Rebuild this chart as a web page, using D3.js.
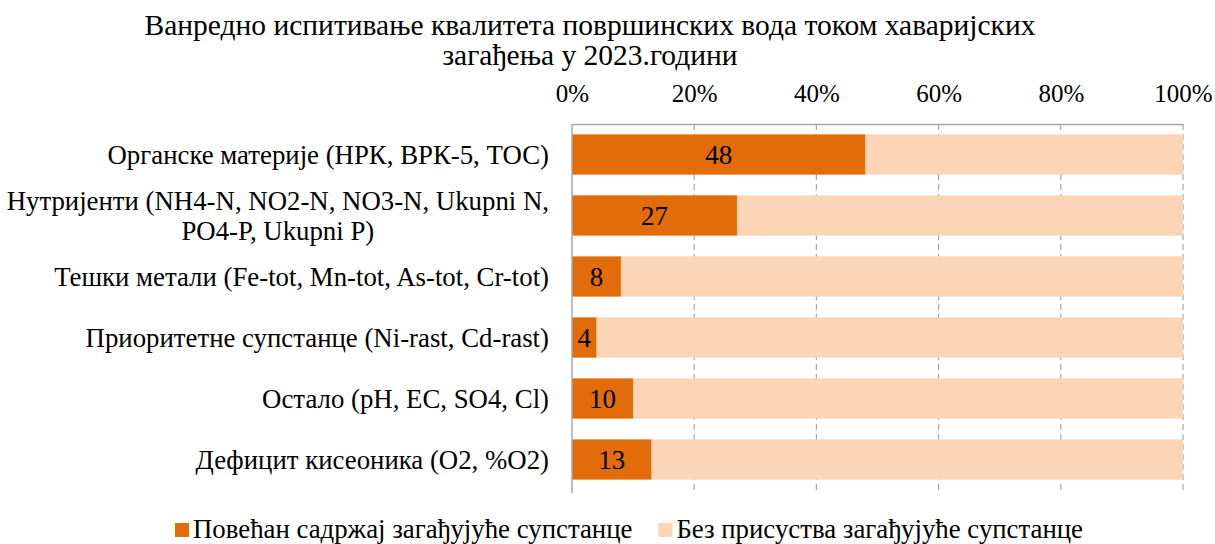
<!DOCTYPE html>
<html>
<head>
<meta charset="utf-8">
<script src="https://cdn.jsdelivr.net/npm/d3@7"></script>
<style>
  body { margin: 0; background: #fff; }
  text { font-family: "Liberation Serif", "Times New Roman", serif; fill: #000; }
</style>
</head>
<body>
<div id="chart"></div>
<script>
var titleLines = ["Ванредно испитивање квалитета површинских вода током хаваријских", "загађења у 2023.години"];
var categories = [
  ["Органске материје (НРК, ВРК-5, ТОС)"],
  ["Нутријенти (NH4-N, NO2-N, NO3-N, Ukupni N,", "PO4-P, Ukupni P)"],
  ["Тешки метали (Fe-tot, Mn-tot, As-tot, Cr-tot)"],
  ["Приоритетне супстанце (Ni-rast, Cd-rast)"],
  ["Остало (pH, EC, SO4, Cl)"],
  ["Дефицит кисеоника (O2, %O2)"]
];
var increased = [48, 27, 8, 4, 10, 13];
var absent = [52, 73, 92, 96, 90, 87];
var seriesNames = ["Повећан садржај загађујуће супстанце", "Без присуства загађујуће супстанце"];
var colors = ["#E36C0A", "#FBD5B5"];
var ticks = [0, 0.2, 0.4, 0.6, 0.8, 1];

var width = 1215, height = 544;
var margin = {top: 124, right: 32, bottom: 54, left: 572};

var svg = d3.select("#chart").append("svg")
  .attr("width", width).attr("height", height);

// title
svg.selectAll(".title")
  .data(titleLines)
  .enter().append("text")
  .attr("class", "title")
  .attr("x", 590)
  .attr("y", function(d, i) { return 35 + i * 30; })
  .attr("text-anchor", "middle")
  .style("font-size", "29.5px")
  .text(function(d) { return d; });

var x = d3.scaleLinear().domain([0, 1]).range([margin.left, width - margin.right]);
var y = d3.scaleBand().domain(d3.range(categories.length))
  .range([margin.top, height - margin.bottom]).paddingInner(0.34).paddingOuter(0.17);

var data = categories.map(function(c, i) {
  var tot = increased[i] + absent[i];
  return {i: i, a: increased[i] / tot, b: absent[i] / tot, v: increased[i]};
});

// gridlines
svg.append("g").selectAll("line")
  .data(ticks.slice(1))
  .enter().append("line")
  .attr("x1", function(d) { return x(d); })
  .attr("x2", function(d) { return x(d); })
  .attr("y1", margin.top)
  .attr("y2", height - margin.bottom + 4)
  .attr("stroke", "#A6A6A6")
  .attr("stroke-width", 1.2)
  .attr("stroke-dasharray", "6,4");

// bars
var rows = svg.append("g").selectAll("g")
  .data(data).enter().append("g");

rows.append("rect")
  .attr("x", function(d) { return x(d.a); })
  .attr("y", function(d) { return y(d.i); })
  .attr("width", function(d) { return x(1) - x(d.a); })
  .attr("height", y.bandwidth())
  .attr("fill", colors[1]);

rows.append("rect")
  .attr("x", x(0))
  .attr("y", function(d) { return y(d.i); })
  .attr("width", function(d) { return x(d.a) - x(0); })
  .attr("height", y.bandwidth())
  .attr("fill", colors[0]);

rows.append("text")
  .attr("x", function(d) { return (x(0) + x(d.a)) / 2; })
  .attr("y", function(d) { return y(d.i) + y.bandwidth() / 2 + 9; })
  .attr("text-anchor", "middle")
  .style("font-size", "27px")
  .text(function(d) { return d.v; });

// top axis
var xAxis = svg.append("g")
  .attr("transform", "translate(0," + margin.top + ")")
  .call(d3.axisTop(x).tickValues(ticks).tickFormat(d3.format(".0%")).tickSize(0).tickPadding(22));
xAxis.select(".domain").attr("stroke", "#A6A6A6").attr("stroke-width", 1.5);
xAxis.selectAll("text").style("font-size", "25px").attr("font-family", null).attr("dy", 0);

// left axis line
svg.append("line")
  .attr("x1", x(0)).attr("x2", x(0))
  .attr("y1", margin.top).attr("y2", height - margin.bottom + 3)
  .attr("stroke", "#A6A6A6").attr("stroke-width", 1.5);

// category labels
var labels = svg.append("g").selectAll("text")
  .data(categories)
  .enter().append("text")
  .attr("y", function(d, i) { return y(i) + y.bandwidth() / 2 + 9 - (d.length - 1) * 15; })
  .style("font-size", "26.8px");

labels.each(function(lines) {
  var t = d3.select(this);
  if (lines.length === 1) {
    t.attr("x", 549).attr("text-anchor", "end").text(lines[0]);
  } else {
    t.attr("text-anchor", "middle");
    var first = t.append("tspan").text(lines[0]);
    var w = first.node().getComputedTextLength();
    var cx = 549 - w / 2;
    first.attr("x", cx);
    lines.slice(1).forEach(function(l) {
      t.append("tspan").attr("x", cx).attr("dy", 30).text(l);
    });
  }
});

// legend
var legend = svg.append("g");
var lx = 175;
seriesNames.forEach(function(name, i) {
  legend.append("rect")
    .attr("x", lx).attr("y", 523)
    .attr("width", 14).attr("height", 14)
    .attr("fill", colors[i]);
  var t = legend.append("text")
    .attr("x", lx + 18).attr("y", 538)
    .style("font-size", "26.8px")
    .text(name);
  lx += 18 + t.node().getComputedTextLength() + 26;
});
</script>
</body>
</html>
